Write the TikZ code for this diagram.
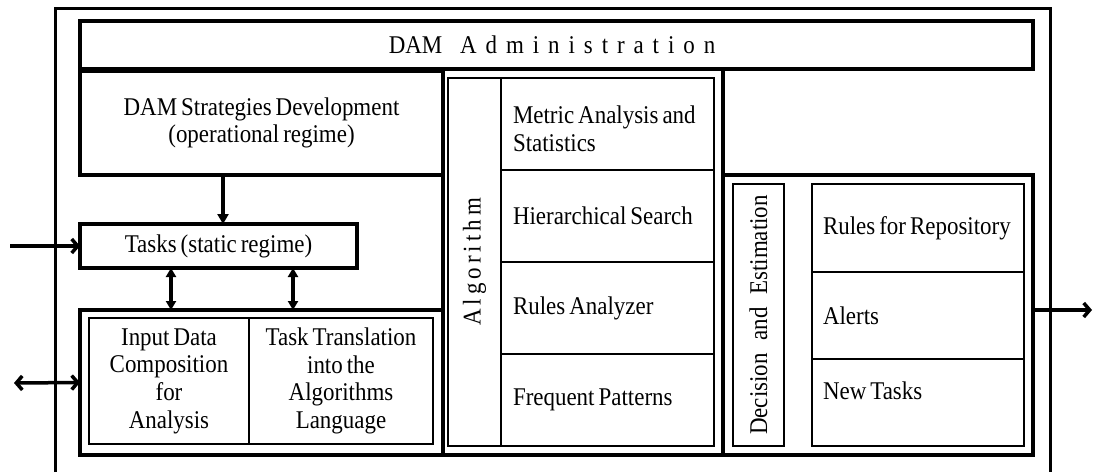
\documentclass[tikz,border=0pt]{standalone}
\usepackage{fontspec}
\setmainfont{Liberation Serif}[FakeStretch=0.9, WordSpace=0.7]
\usepackage{tikz}
\usetikzlibrary{arrows.meta,positioning}

% letters of a word pulled apart
\def\spreadword#1{\ifx#1\relax\else#1\hspace{0.35em}\expandafter\spreadword\fi}

\tikzset{
  heavy/.style={draw, line width=3.5pt, inner sep=0pt, outer sep=0pt},
  light/.style={draw, line width=1.2pt, inner sep=0pt, outer sep=0pt},
  item/.style={light, minimum width=213pt, minimum height=92pt, inner xsep=12pt, text width=189pt, align=flush left},
  ritem/.style={light, minimum width=212pt, inner xsep=11pt, text width=190pt, align=flush left},
  barb/.style={line width=3.5pt, -{Straight Barb[length=6pt,width=14pt,line width=3.5pt]}},
  bibarb/.style={line width=3.5pt, {Straight Barb[length=6pt,width=14pt,line width=3.5pt]}-{Straight Barb[length=6pt,width=14pt,line width=3.5pt]}},
  tri/.style={line width=3.5pt, -{Triangle[length=10pt,width=11pt]}},
  bitri/.style={line width=3.5pt, {Triangle[length=9pt,width=10pt]}-{Triangle[length=9pt,width=10pt]}}
}

\begin{document}
\begin{tikzpicture}[x=1pt, y=-1pt, font=\fontsize{25.5pt}{27.6pt}\selectfont]
        \useasboundingbox (0,0) rectangle (1094,472);
        \draw[line width=3pt] (55,472) |- (1050,8) -- (1050,472);

        \node[heavy, minimum width=953pt, minimum height=48pt]  (admin) at (556.5,45)  {DAM\hspace{0.7em}\spreadword Administration\relax\hspace{-0.35em}};
        \node[heavy, minimum width=363pt, minimum height=104pt, align=center] (strat) at (261.5,123) {DAM Strategies Development\\(operational regime)};
        \node[heavy, minimum width=277pt, minimum height=44pt]  (tasks) at (218.5,246) {Tasks (static regime)};
        \node[heavy, minimum width=363pt, minimum height=145pt] (data)  at (261.5,382.5) {};
        \node[light, minimum width=160pt, minimum height=126pt, text width=150pt, align=flush center] (inp)   at (169,381) {Input Data\\Composition\\for\\Analysis};
        \node[light, minimum width=184pt, minimum height=126pt, text width=174pt, align=flush center] (trans) [right=0pt of inp] {Task Translation\\into the\\Algorithms\\Language};

        \node[heavy, minimum width=280pt, minimum height=386pt] (algo) at (583,262) {};
        \node[light, rotate=90, minimum width=368pt, minimum height=53pt] (algolbl) at (474.5,262) {A l g o r i t h m};
        \node[item] (metr) at (607.5,124)       {\raisebox{-5pt}[\height][\depth]{Metric Analysis and}\\\raisebox{-5pt}[\height][\depth]{Statistics}};
        \node[item] (hier) [below=0pt of metr]  {Hierarchical Search};
        \node[item] (rula) [below=0pt of hier]  {Rules Analyzer};
        \node[item] (freq) [below=0pt of rula]  {Frequent Patterns};

        \node[heavy, minimum width=310pt, minimum height=280pt] (dec) at (878,315) {};
        \node[light, rotate=90, minimum width=262pt, minimum height=51pt] (declbl) at (758.5,315) {Decision\hspace{0.5em}and\hspace{0.5em}Estimation};
        \node[ritem, minimum height=88pt] (repo) at (918,228)        {Rules for Repository};
        \node[ritem, minimum height=87pt] (alrt) [below=0pt of repo] {Alerts};
        \node[ritem, minimum height=87pt] (newt) [below=0pt of alrt] {\raisebox{12pt}[\height][\depth]{New Tasks}};

        \coordinate (src)  at (10,246);
        \coordinate (ext)  at (14,383);
        \coordinate (sink) at (1092,310);

        \draw[tri]    ([xshift=4.5pt]tasks.north |- strat.south) -- ([xshift=4.5pt]tasks.north);
        \draw[barb]   (src) -- (tasks.west);
        \draw[bitri]  ([xshift=-47.5pt]tasks.south) -- ([xshift=-47.5pt]tasks.south |- data.north);
        \draw[bitri]  ([xshift=74.5pt]tasks.south) -- ([xshift=74.5pt]tasks.south |- data.north);
        \draw[bibarb] (ext) -- (data.west);
        \draw[barb]   ([yshift=5pt]dec.east) -- (sink);
\end{tikzpicture}
\end{document}
